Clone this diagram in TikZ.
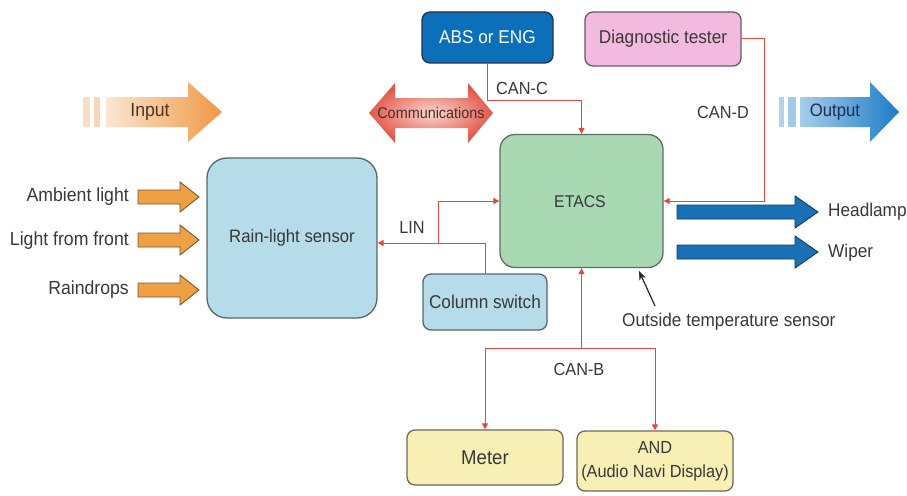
\documentclass[tikz,border=0pt]{standalone}
\usepackage{fontspec}
\setmainfont{Liberation Sans}[FakeStretch=0.93]
\usetikzlibrary{arrows.meta}
\definecolor{txt}{HTML}{383838}
\definecolor{canred}{HTML}{E8463A}
\definecolor{absfill}{HTML}{0B6FBA}
\definecolor{absdraw}{HTML}{1C3550}
\definecolor{diagfill}{HTML}{F2BADF}
\definecolor{diagdraw}{HTML}{6A5A68}
\definecolor{etacsfill}{HTML}{A9D9B3}
\definecolor{etacsdraw}{HTML}{5E6E64}
\definecolor{sensfill}{HTML}{B6DBE9}
\definecolor{sensdraw}{HTML}{56666E}
\definecolor{dispfill}{HTML}{F8EFB4}
\definecolor{dispdraw}{HTML}{6E6A55}
\definecolor{orfill}{HTML}{F0A044}
\definecolor{ordraw}{HTML}{7A5632}
\definecolor{blfill}{HTML}{1A70B4}
\definecolor{bldraw}{HTML}{0E3D6B}
\definecolor{commred}{HTML}{E4584A}
\definecolor{commlight}{HTML}{FAD8D0}
\newcommand\rarr[6]{(#1,#4-#5) -- (#2,#4-#5) -- (#2,#4-#6) -- (#3,#4) -- (#2,#4+#6) -- (#2,#4+#5) -- (#1,#4+#5) -- cycle}
\tikzset{
  lbl/.style={text=txt, font=\fontsize{18.5}{21}\selectfont, inner sep=0pt},
  canlbl/.style={lbl, font=\fontsize{17.5}{20}\selectfont},
  boxbase/.style={rectangle, line width=1.3pt, inner sep=0pt, align=center, text=txt, font=\fontsize{18.5}{23}\selectfont},
  smallbox/.style={boxbase, rounded corners=8pt},
  canline/.style={draw=canred, line width=1pt},
  canarrow/.style={canline, -{Triangle[length=6pt,width=6pt]}},
  orarrow/.style={fill=orfill, draw=ordraw, line width=0.9pt},
  blarrow/.style={fill=blfill, draw=bldraw, line width=0.9pt},
}
\begin{document}
\begin{tikzpicture}[x=1pt,y=-1pt]
\useasboundingbox (0,0) rectangle (907,495);
\fill[white] (0,0) rectangle (907,495);

% Input big arrow
\fill[color={rgb,255:red,249;green,222;blue,198}] (83,97) rectangle (90,127);
\fill[color={rgb,255:red,248;green,214;blue,186}] (94,97) rectangle (100,127);
\shade[left color={rgb,255:red,251;green,230;blue,210}, right color={rgb,255:red,240;green,152;blue,68}] (106,97) -- (188,97) -- (188,82) -- (222,112) -- (188,142) -- (188,127) -- (106,127) -- cycle;
\node[lbl, font=\fontsize{19}{21}\selectfont, text={rgb,255:red,80;green,50;blue,35}] (input) at (150,112) {Input};

% Communications double arrow
\shade[inner color=commlight, outer color=commred] (369,113) -- (395,83) -- (395,98) -- (468,98) -- (468,83) -- (493,113) -- (468,143) -- (468,128) -- (395,128) -- (395,143) -- cycle;
\node[lbl, font=\fontsize{15.5}{17}\selectfont, text={rgb,255:red,75;green,45;blue,45}] (comm) at (431,113) {Communications};

% Output big arrow
\fill[color={rgb,255:red,176;green,212;blue,238}] (779,97) rectangle (784,127);
\fill[color={rgb,255:red,160;green,203;blue,234}] (788,97) rectangle (796,127);
\shade[left color={rgb,255:red,166;green,205;blue,235}, right color={rgb,255:red,28;green,124;blue,200}] (800,97) -- (870,97) -- (870,82) -- (899,112) -- (870,142) -- (870,127) -- (800,127) -- cycle;
\node[lbl, font=\fontsize{18}{21}\selectfont, text={rgb,255:red,30;green,46;blue,80}] (output) at (835,112) {Output};

% Boxes
\node[smallbox, fill=absfill, draw=absdraw, text=white, minimum width=131pt, minimum height=51pt] (abs) at (487.5,37.5) {ABS or ENG};
\node[smallbox, fill=diagfill, draw=diagdraw, minimum width=156pt, minimum height=54pt] (diag) at (663,39) {Diagnostic tester};
\node[boxbase, rounded corners=15pt, fill=etacsfill, draw=etacsdraw, minimum width=163pt, minimum height=133pt] (etacs) at (581.5,201) {};
\node[lbl, font=\fontsize{17}{20}\selectfont] (etacslbl) at (580,202) {ETACS};
\node[boxbase, rounded corners=20pt, fill=sensfill, draw=sensdraw, minimum width=170pt, minimum height=160pt, font=\fontsize{18}{21}\selectfont] (rain) at (292,238) {Rain-light sensor};
\node[smallbox, fill=sensfill, draw=sensdraw, minimum width=124pt, minimum height=56pt] (column) at (485,302) {Column switch};
\node[smallbox, fill=dispfill, draw=dispdraw, minimum width=156pt, minimum height=55pt, font=\fontsize{20}{23}\selectfont] (meter) at (485,457.5) {Meter};
\node[smallbox, fill=dispfill, draw=dispdraw, minimum width=156pt, minimum height=60pt, font=\fontsize{17.5}{24}\selectfont] (and) at (655,461) {AND\\(Audio Navi Display)};

% Input labels and arrows
\node[lbl, font=\fontsize{19}{21}\selectfont, anchor=east] (amb) at (129,197) {Ambient light};
\node[lbl, font=\fontsize{19}{21}\selectfont, anchor=east] (lff) at (129,241) {Light from front};
\node[lbl, font=\fontsize{19}{21}\selectfont, anchor=east] (rdr) at (129,290) {Raindrops};
\draw[orarrow] \rarr{138}{180}{199}{197}{7}{15};
\draw[orarrow] \rarr{138}{180}{199}{240}{7}{15};
\draw[orarrow] \rarr{138}{180}{199}{290}{7}{15};

% Output arrows
\draw[blarrow] \rarr{677}{795}{818}{212}{7}{16};
\draw[blarrow] \rarr{677}{795}{818}{252}{7}{16};
\node[lbl, anchor=west] (head) at (828,212) {Headlamp};
\node[lbl, anchor=west] (wiper) at (828,253) {Wiper};

% CAN-C
\coordinate (cancy) at (0,100);
\draw[canarrow] (abs.south) -- (abs.south |- cancy) -| (etacs.north);
\node[canlbl] (canc) at (522,88) {CAN-C};

% CAN-D
\coordinate (candx) at (764,0);
\draw[canarrow] (diag.east) -- (candx |- diag.east) |- (etacs.east);
\node[canlbl] (cand) at (723,112) {CAN-D};

% LIN
\coordinate (linrow) at (0,243);
\coordinate (lj) at (438,243);
\draw[canarrow] (column.north) -- (column.north |- linrow) -- (rain.east |- linrow);
\draw[canarrow] (lj) |- (etacs.west);
\node[canlbl] (lin) at (412,227) {LIN};

% CAN-B
\coordinate (cb) at (581.5,348);
\draw[canarrow] (cb) -- (etacs.south);
\draw[canarrow] (cb) -| (meter.north);
\draw[canarrow] (cb) -| (and.north);
\node[canlbl] (canb) at (579,369) {CAN-B};

% Outside temperature sensor
\node[lbl, anchor=west] (ots) at (622,322) {Outside temperature sensor};
\coordinate (otstail) at (655,306);
\coordinate (otstip) at (639,271);
\draw[line width=1.2pt, color={rgb,255:red,40;green,40;blue,40}, -{Stealth[length=9pt,width=7pt]}] (otstail) -- (otstip);
\end{tikzpicture}
\end{document}
